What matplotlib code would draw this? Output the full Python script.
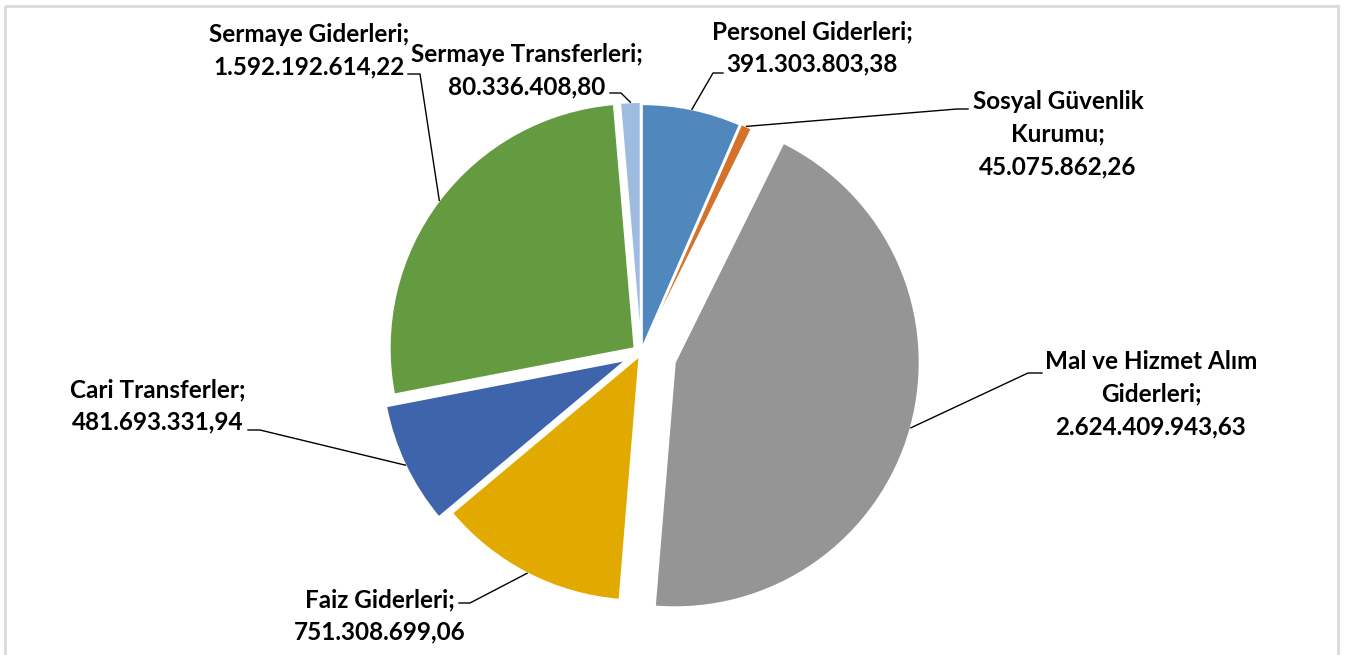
import matplotlib
matplotlib.use("Agg")
import matplotlib.pyplot as plt
import numpy as np
from matplotlib.patches import Rectangle

# data
categories = ["Personel Giderleri", "Sosyal Güvenlik Kurumu", "Mal ve Hizmet Alım Giderleri",
              "Faiz Giderleri", "Cari Transferler", "Sermaye Giderleri", "Sermaye Transferleri"]
values = [391303803.38, 45075862.26, 2624409943.63, 751308699.06,
          481693331.94, 1592192614.22, 80336408.80]
label_texts = ["Personel Giderleri;\n391.303.803,38",
               "Sosyal Güvenlik\nKurumu;\n45.075.862,26",
               "Mal ve Hizmet Alım\nGiderleri;\n2.624.409.943,63",
               "Faiz Giderleri;\n751.308.699,06",
               "Cari Transferler;\n481.693.331,94",
               "Sermaye Giderleri;\n1.592.192.614,22",
               "Sermaye Transferleri;\n80.336.408,80"]
colors = ["#5088bd", "#d4722b", "#959595", "#e2aa00", "#3e64ab", "#659b40", "#9dbce0"]

# layout (pixel coordinates, y downwards)
W, H = 1354, 655
center = (641, 353)
radius = 245
explode_px = [4, 5, 35, 3, 16, 8, 6]
label_pos = [(812, 48), (1058, 134), (1151, 394), (380, 616),
             (158, 406), (309, 51), (527, 71)]
# leader line: elbow then end near text
leader_pts = [((713, 73), (723, 73)),
              ((957, 109), (968, 109)),
              ((1028, 373), (1042, 373)),
              ((470, 603), (459, 603)),
              ((260, 430), (248, 430)),
              ((420, 74), (408, 74)),
              ((621, 93), (610, 93))]

fig = plt.figure(figsize=(W / 100, H / 100), dpi=100)
ax = fig.add_axes([0, 0, 1, 1])

wedges, _ = ax.pie(values, colors=colors, startangle=-90, counterclock=True,
                   center=center, radius=radius, explode=explode_px,
                   wedgeprops=dict(edgecolor="white", linewidth=1.5))

ax.set_xlim(0, W)
ax.set_ylim(H, 0)
ax.set_aspect("equal")
ax.axis("off")

# mid angle of each slice, same convention as the pie above
fracs = np.array(values) / np.sum(values)
starts = -90 + 360 * np.concatenate([[0], np.cumsum(fracs)[:-1]])
mids = np.deg2rad(starts + 180 * fracs)

for i in range(len(values)):
    cx = center[0] + explode_px[i] * np.cos(mids[i])
    cy = center[1] + explode_px[i] * np.sin(mids[i])
    px = cx + radius * np.cos(mids[i])
    py = cy + radius * np.sin(mids[i])
    elbow, end = leader_pts[i]
    ax.plot([px, elbow[0], end[0]], [py, elbow[1], end[1]], color="black", lw=1, zorder=5)
    ax.text(label_pos[i][0], label_pos[i][1], label_texts[i], ha="center", va="center",
            fontsize=17.5, fontweight="bold", family=["Lato", "DejaVu Sans"],
            linespacing=1.5, color="black")

ax.add_patch(Rectangle((5, 6), 1333, 700, fill=False, edgecolor="#d9d9d9", lw=2, clip_on=False))

fig.savefig("out.png", dpi=100)
